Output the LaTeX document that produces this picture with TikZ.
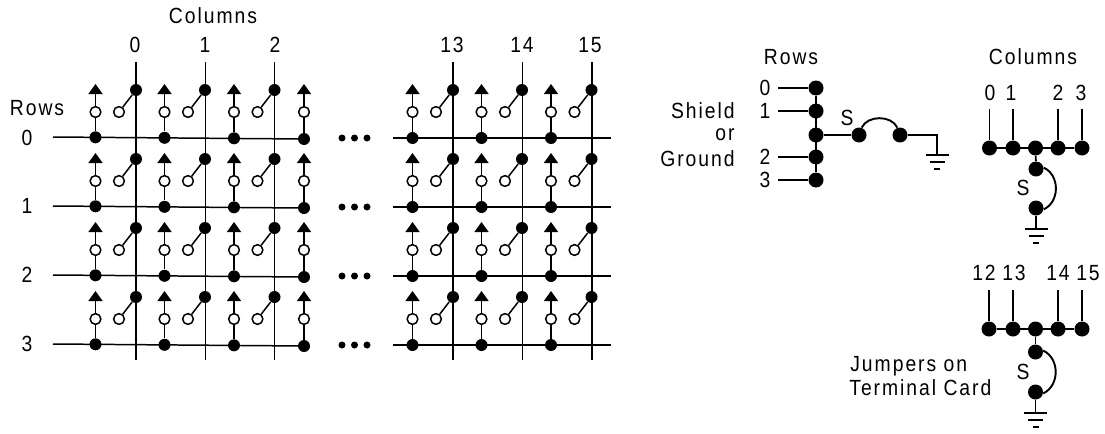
\documentclass[tikz,border=0pt]{standalone}
\usepackage{fontspec}
\setmainfont[FakeStretch=0.88,LetterSpace=9]{Liberation Sans}
\usetikzlibrary{arrows.meta}
\tikzset{
  dot/.style={circle,fill=black,inner sep=0pt,minimum size=0.24cm},
  bigdot/.style={circle,fill=black,inner sep=0pt,minimum size=0.3cm},
  open/.style={circle,draw=black,fill=white,line width=0.85pt,inner sep=0pt,minimum size=0.215cm},
  lbl/.style={inner sep=0pt,font=\fontsize{12.5}{14}\selectfont},
  wire/.style={line width=0.85pt},
  heavy/.style={line width=1.1pt},
  tip/.style={-{Triangle[width=0.28cm,length=0.2cm]}},
}
\newcommand{\gnd}[3]{% stem end #1, x #2, y #3
  \draw[heavy] (#2-11.5,#3) -- (#2+11.5,#3);
  \draw[heavy] (#2-7.5,#3+7) -- (#2+7.5,#3+7);
  \draw[heavy] (#2-3,#3+14) -- (#2+3,#3+14);
}
\begin{document}
\begin{tikzpicture}[x=0.02cm,y=-0.02cm]
\useasboundingbox (0,0) rectangle (1105,433);

% Column wires of the matrix
\foreach \cx/\cn in {136/a,205.5/b,274.5/c,453/d,522.5/e,592/f}{
  \coordinate (top\cn) at (\cx,62);
  \coordinate (bot\cn) at (\cx,360);
  \draw[wire] (top\cn) -- (bot\cn);
}
% Row wires
\foreach \r in {0,1,2,3}{
  \pgfmathsetmacro{\ry}{137+69*\r}
  \coordinate (rowL\r) at (53,\ry);
  \coordinate (rowM\r) at (393,\ry+1);
  \coordinate (rowR\r) at (611,\ry+1);
  \draw[wire] (rowL\r) -- (304,\ry+2);
  \draw[wire] (rowM\r) -- (rowR\r);
  % three dots
  \foreach \k in {342,354.5,367}{
    \fill (\k,\ry+1) circle (0.07cm);
  }
}
% Crosspoints: branch, contact and switch
\foreach \r in {0,1,2,3}{
  \pgfmathsetmacro{\ry}{137+69*\r}
  \foreach \bx/\dy/\bn in {95.5/0.3/a,164.5/0.8/b,234/1.3/c,304/2/z,412.5/1/d,481.5/1/e,551/1/f}{
    \node[dot] (b\r\bn) at (\bx,\ry+\dy) {};
    \node[open] (o\r\bn) at (\bx,\ry-25) {};
    \coordinate (t\r\bn) at (\bx,\ry-53);
    \draw[wire] (b\r\bn) -- (o\r\bn);
    \draw[wire,tip] (o\r\bn) -- (t\r\bn);
  }
  \foreach \bx/\bn in {95.5/a,164.5/b,234/c,412.5/d,481.5/e,551/f}{
    \node[dot] (c\r\bn) at (\bx+40.5,\ry-47) {};
    \node[open] (s\r\bn) at (\bx+23.5,\ry-25) {};
    \draw[wire] (s\r\bn) -- (c\r\bn);
  }
}
% Matrix labels
\node[lbl] (colsA) at (213,16) {Columns};
\node[lbl] (rowsA) at (37,108) {Rows};
\foreach \t/\x in {0/135,1/205,2/275,13/452,14/522,15/590}{
  \node[lbl] at (\x,45) {\t};
}
\foreach \t/\y in {0/138,1/206,2/275,3/344}{
  \node[lbl] at (27,\y) {\t};
}

% Row jumpers
\node[lbl] (rowsB) at (791,57) {Rows};
\foreach \t/\y/\n in {0/88/a,1/111/b,c/135/c,2/157/d,3/180/e}{
  \node[bigdot] (rj\n) at (816,\y) {};
}
\foreach \t/\y/\n in {0/88/a,1/111/b,2/157/d,3/180/e}{
  \node[lbl] at (765,\y) {\t};
  \coordinate (rs\n) at (778,\y);
  \draw[heavy] (rs\n) -- (rj\n);
}
\draw[heavy] (rja) -- (rje);
\node[lbl,anchor=east] (shield) at (735,111) {Shield};
\node[lbl,anchor=east] (or) at (735,135) {or};
\node[lbl,anchor=east] (ground) at (735,159) {Ground};
\node[bigdot] (ja) at (859,135) {};
\node[bigdot] (jb) at (900,135) {};
\node[lbl] (sa) at (847,118) {S};
\draw[heavy] (rjc) -- (ja);
\draw[heavy] (ja.70) to[out=65,in=115] (jb.110);
\coordinate (ga) at (937,155);
\draw[heavy] (jb) -| (ga);
\gnd{ga}{937}{155}

% Column jumpers 0 to 3
\node[lbl] (colsB) at (1033,57) {Columns};
\foreach \t/\x/\l/\n in {0/989.5/990/a,1/1013/1011/b,2/1058/1058/d,3/1082/1081/e}{
  \node[lbl] at (\l,93) {\t};
  \coordinate (ct\n) at (\x,109);
  \node[bigdot] (cj\n) at (\x,148) {};
  \draw[heavy] (ct\n) -- (cj\n);
}
\node[bigdot] (cjc) at (1035.5,148) {};
\draw[heavy] (cja) -- (cje);
\node[bigdot] (cu) at (1036,169) {};
\node[bigdot] (cv) at (1036,208) {};
\node[lbl] (sb) at (1023,188) {S};
\draw[heavy] (cjc) -- (cu);
\draw[heavy] (cu.10) to[out=-25,in=25,looseness=1.1] (cv.-10);
\coordinate (gb) at (1036,229);
\draw[heavy] (cv) -- (gb);
\gnd{gb}{1036}{229}

% Column jumpers 12 to 15
\foreach \t/\x/\l/\n in {12/989/984/a,13/1013/1014/b,14/1058/1058/d,15/1082/1088/e}{
  \node[lbl] at (\l,273) {\t};
  \coordinate (dt\n) at (\x,290);
  \node[bigdot] (dj\n) at (\x,329) {};
  \draw[heavy] (dt\n) -- (dj\n);
}
\node[bigdot] (djc) at (1035.5,329) {};
\draw[heavy] (dja) -- (dje);
\node[bigdot] (du) at (1035.5,352) {};
\node[bigdot] (dv) at (1035.5,392) {};
\node[lbl] (sc) at (1023,372) {S};
\draw[heavy] (djc) -- (du);
\draw[heavy] (du.10) to[out=-25,in=25,looseness=1.1] (dv.-10);
\coordinate (gc) at (1035.5,413);
\draw[heavy] (dv) -- (gc);
\gnd{gc}{1035.5}{413}
\node[lbl,anchor=west] (jump) at (850,366) {Jumpers on};
\node[lbl,anchor=west] (term) at (849,388) {Terminal Card};

\end{tikzpicture}
\end{document}
